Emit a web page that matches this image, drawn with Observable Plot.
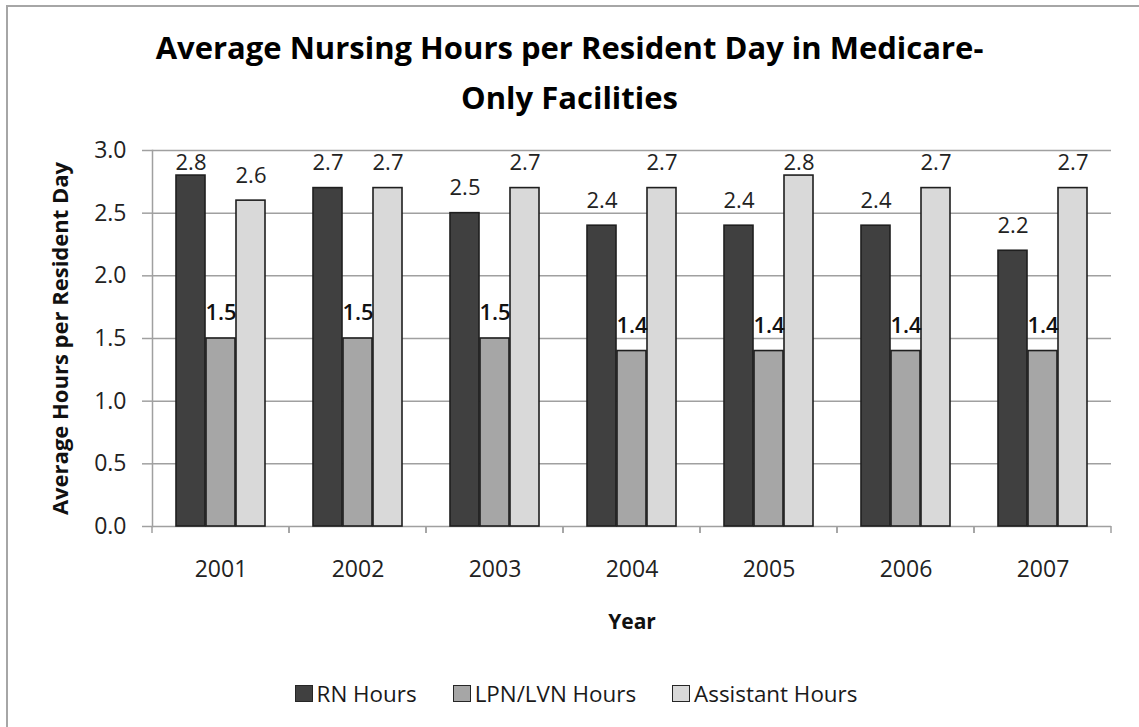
<!DOCTYPE html>
<html>
<head>
<meta charset="utf-8">
<script src="https://cdn.jsdelivr.net/npm/d3@7"></script>
<script src="https://cdn.jsdelivr.net/npm/@observablehq/plot@0.6"></script>
<style>
  html, body { margin: 0; padding: 0; background: #fff; }
  #wrap { position: relative; width: 1139px; height: 727px; overflow: hidden; font-family: "Open Sans", sans-serif; color: #000; }
  #border { position: absolute; left: 6px; top: 5px; width: 1300px; height: 900px; border-left: 2px solid #a6a6a6; border-top: 2px solid #a6a6a6; }
  #title { position: absolute; left: 0; top: 22px; width: 1139px; text-align: center; font-weight: 700; font-size: 31px; line-height: 50px; }
  #title span { display: block; }
  #chart { position: absolute; left: 0; top: 130px; }
  #legend { position: absolute; left: 0; top: 677px; width: 1139px; height: 32px; display: flex; justify-content: center; align-items: center; font-size: 22.4px; color: #1a1a1a; padding-left: 13px; box-sizing: border-box; }
  .item { display: flex; align-items: center; margin: 0 18px; }
  .sw { width: 16px; height: 15px; border: 1.5px solid #262626; margin-right: 4px; }
</style>
</head>
<body>
<div id="wrap">
  <div id="border"></div>
  <div id="title"><span>Average Nursing Hours per Resident Day in Medicare-</span><span>Only Facilities</span></div>
  <div id="chart"></div>
  <div id="legend"></div>
</div>
<script>
const years = ["2001", "2002", "2003", "2004", "2005", "2006", "2007"];
const series = ["RN Hours", "LPN/LVN Hours", "Assistant Hours"];
const rnHours = [2.8, 2.7, 2.5, 2.4, 2.4, 2.4, 2.2];
const lpnHours = [1.5, 1.5, 1.5, 1.4, 1.4, 1.4, 1.4];
const assistantHours = [2.6, 2.7, 2.7, 2.7, 2.8, 2.7, 2.7];
const yTicks = [0, 0.5, 1.0, 1.5, 2.0, 2.5, 3.0];
const seriesColors = ["#404040", "#a6a6a6", "#d9d9d9"];
const yTitle = "Average Hours per Resident Day";
const xTitle = "Year";

const seriesValues = [rnHours, lpnHours, assistantHours];
const data = [];
years.forEach((year, i) => {
  series.forEach((s, k) => data.push({year, series: s, value: seriesValues[k][i]}));
});

const gridColor = "#a0a0a0";
const labelY = d => Math.min(d.value + 0.2, 2.9);

// boundary tick marks under the category axis, drawn in every facet at its edges
function categoryEdgeTicks(index, scales, values, dimensions) {
  const g = d3.create("svg:g");
  const [x0, x1] = scales.x.range();
  const y0 = scales.y(0);
  g.selectAll("line").data([x0, x1]).join("line")
    .attr("x1", d => d).attr("x2", d => d)
    .attr("y1", y0).attr("y2", y0 + 7)
    .attr("stroke", gridColor).attr("stroke-width", 1.5);
  return g.node();
}

const chart = Plot.plot({
  width: 1139,
  height: 520,
  marginLeft: 151,
  marginRight: 27,
  marginTop: 20,
  marginBottom: 124,
  style: {fontFamily: "Open Sans", fontSize: "23px", color: "#222", background: "transparent", overflow: "visible"},
  fx: {domain: years, padding: 0, label: null, axis: null},
  x: {domain: series, paddingInner: 0.02, paddingOuter: 0.727, axis: null},
  y: {domain: [0, 3], axis: null},
  color: {domain: series, range: seriesColors},
  marks: [
    Plot.ruleY(yTicks, {stroke: gridColor, strokeWidth: 1.5}),
    categoryEdgeTicks,
    Plot.frame({anchor: "left", facetAnchor: "left", stroke: gridColor, strokeWidth: 1.5}),
    Plot.axisY({
      ticks: yTicks, tickFormat: d3.format(".1f"), tickSize: 10, tickPadding: 16,
      stroke: gridColor, fill: "#222", strokeWidth: 1.5, fontSize: 23, label: null
    }),
    Plot.barY(data, {fx: "year", x: "series", y: "value", fill: "series", stroke: "#1f1f1f", strokeWidth: 1.6}),
    Plot.text(data.filter(d => d.series !== "LPN/LVN Hours"), {
      fx: "year", x: "series", y: labelY, text: d => d.value.toFixed(1), fontSize: 22, fill: "#222"
    }),
    Plot.text(data.filter(d => d.series === "LPN/LVN Hours"), {
      fx: "year", x: "series", y: labelY, text: d => d.value.toFixed(1), fontSize: 22, fill: "#111", fontWeight: 600
    }),
    Plot.text(years, {fx: d => d, text: d => d, frameAnchor: "bottom", dy: 50, fontSize: 23, fill: "#222"}),
    Plot.text([xTitle], {fx: () => years[3], text: d => d, frameAnchor: "bottom", dy: 102, fontSize: 21, fontWeight: 700, fill: "#111"}),
    Plot.text([yTitle], {fx: () => years[0], text: d => d, frameAnchor: "left", textAnchor: "middle", lineAnchor: "middle", dx: -92, rotate: -90, fontSize: 22, fontWeight: 700, fill: "#111"})
  ]
});
document.getElementById("chart").appendChild(chart);

const legend = d3.select("#legend");
series.forEach((s, k) => {
  const item = legend.append("div").attr("class", "item");
  item.append("div").attr("class", "sw").style("background", seriesColors[k]);
  item.append("span").text(s);
});
</script>
</body>
</html>
